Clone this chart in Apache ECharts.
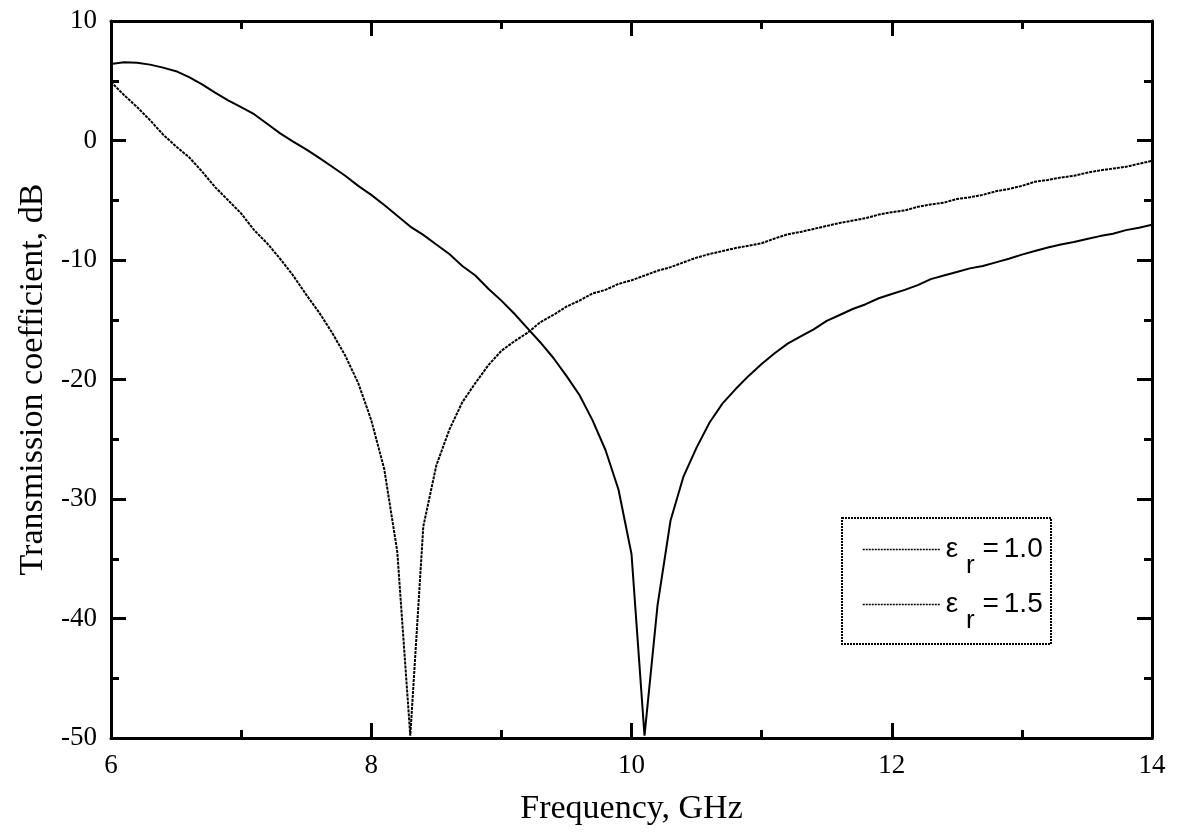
<!DOCTYPE html>
<html>
<head>
<meta charset="utf-8">
<script src="https://cdn.jsdelivr.net/npm/echarts@6/dist/echarts.min.js"></script>
<style>
  html, body { margin: 0; padding: 0; background: #fff; }
  #chart { width: 1180px; height: 835px; }
</style>
</head>
<body>
<div id="chart"></div>
<script>
// Frequency samples, GHz (0.1 GHz step)
const freqGHz = [
  6.0, 6.1, 6.2, 6.3, 6.4, 6.5, 6.6, 6.7, 6.8, 6.9,
  7.0, 7.1, 7.2, 7.3, 7.4, 7.5, 7.6, 7.7, 7.8, 7.9,
  8.0, 8.1, 8.2, 8.3, 8.4, 8.5, 8.6, 8.7, 8.8, 8.9,
  9.0, 9.1, 9.2, 9.3, 9.4, 9.5, 9.6, 9.7, 9.8, 9.9,
  10.0, 10.1, 10.2, 10.3, 10.4, 10.5, 10.6, 10.7, 10.8, 10.9,
  11.0, 11.1, 11.2, 11.3, 11.4, 11.5, 11.6, 11.7, 11.8, 11.9,
  12.0, 12.1, 12.2, 12.3, 12.4, 12.5, 12.6, 12.7, 12.8, 12.9,
  13.0, 13.1, 13.2, 13.3, 13.4, 13.5, 13.6, 13.7, 13.8, 13.9,
  14.0
];

// Transmission coefficient (dB), eps_r = 1.0
const transEps10 = [
  6.4, 6.55, 6.5, 6.35, 6.1, 5.8, 5.3, 4.7, 4.0, 3.35,
  2.8, 2.2, 1.4, 0.6, -0.1, -0.75, -1.45, -2.2, -2.95, -3.8,
  -4.55, -5.4, -6.3, -7.2, -7.9, -8.7, -9.5, -10.5, -11.3, -12.4,
  -13.4, -14.5, -15.7, -16.9, -18.2, -19.7, -21.3, -23.4, -25.9, -29.2,
  -34.6, -49.8, -38.9, -31.8, -28.1, -25.7, -23.6, -22.0, -20.8, -19.7,
  -18.7, -17.8, -17.0, -16.4, -15.8, -15.1, -14.6, -14.1, -13.7, -13.2,
  -12.85, -12.5, -12.1, -11.6, -11.3, -11.0, -10.7, -10.5, -10.2, -9.9,
  -9.55, -9.25, -8.95, -8.7, -8.5, -8.25, -8.0, -7.8, -7.5, -7.3,
  -7.05
];

// Transmission coefficient (dB), eps_r = 1.5
const transEps15 = [
  4.9, 3.8, 2.8, 1.7, 0.5, -0.5, -1.4, -2.6, -3.9, -5.0,
  -6.1, -7.5, -8.6, -9.9, -11.3, -12.9, -14.4, -16.1, -18.0, -20.3,
  -23.4, -27.5, -34.4, -49.8, -32.3, -27.2, -24.2, -21.9, -20.3, -18.8,
  -17.6, -16.8, -16.1, -15.2, -14.6, -13.9, -13.4, -12.8, -12.5, -12.0,
  -11.7, -11.3, -10.9, -10.6, -10.2, -9.8, -9.5, -9.25, -9.0, -8.8,
  -8.6, -8.2, -7.85, -7.65, -7.4, -7.15, -6.9, -6.7, -6.5, -6.2,
  -6.0, -5.85, -5.55, -5.35, -5.2, -4.9, -4.75, -4.55, -4.25, -4.05,
  -3.8, -3.45, -3.3, -3.1, -2.95, -2.7, -2.5, -2.35, -2.2, -1.95,
  -1.7
];

// Relative permittivity values shown in the legend
const permittivity = ['1.0', '1.5'];
const seriesNames = permittivity.map(p => 'eps_r=' + p);

const pairs = vals => freqGHz.map((f, i) => [f, vals[i]]);

const serif = 'Liberation Serif, Times New Roman, serif';
const sans = 'Liberation Sans, Arial, sans-serif';

const frameTick = (showLabels) => ({
  axisLine: { show: true, onZero: false, lineStyle: { color: '#000', width: 3 } },
  axisTick: { show: true, inside: true, length: 15, lineStyle: { color: '#000', width: 3 } },
  minorTick: { show: true, splitNumber: 2, length: 8, lineStyle: { color: '#000', width: 3 } },
  splitLine: { show: false },
  minorSplitLine: { show: false },
  axisLabel: { show: showLabels, color: '#000', fontFamily: serif, fontSize: 27, margin: 14 }
});

const chart = echarts.init(document.getElementById('chart'));

const option = {
  animation: false,
  backgroundColor: '#fff',
  grid: { left: 111, top: 21, right: 28, bottom: 97, containLabel: false },
  xAxis: [
    Object.assign({
      type: 'value', min: 6, max: 14, interval: 2, position: 'bottom',
      name: 'Frequency, GHz', nameLocation: 'middle', nameGap: 54,
      nameTextStyle: { color: '#000', fontFamily: serif, fontSize: 34 }
    }, frameTick(true)),
    Object.assign({ type: 'value', min: 6, max: 14, interval: 2, position: 'top' }, frameTick(false))
  ],
  yAxis: [
    Object.assign({
      type: 'value', min: -50, max: 10, interval: 10, position: 'left',
      name: 'Transmission coefficient, dB', nameLocation: 'middle', nameGap: 60, nameRotate: 90,
      nameTextStyle: { color: '#000', fontFamily: serif, fontSize: 34 }
    }, frameTick(true)),
    Object.assign({ type: 'value', min: -50, max: 10, interval: 10, position: 'right' }, frameTick(false))
  ],
  legend: {
    orient: 'vertical',
    left: 862,
    top: 520,
    padding: 0,
    itemGap: -4,
    itemWidth: 78,
    itemHeight: 14,
    lineStyle: { color: '#000', width: 1.5, type: [2, 1] },
    itemStyle: { color: 'rgba(0,0,0,0)', borderWidth: 0 },
    data: seriesNames,
    formatter: name => {
      const p = permittivity[seriesNames.indexOf(name)];
      return '{a|ε }{s|r}{a| =}{n|' + p + '}';
    },
    textStyle: {
      color: '#000',
      rich: {
        a: { fontFamily: sans, fontSize: 28, lineHeight: 28, color: '#000' },
        n: { fontFamily: sans, fontSize: 28, lineHeight: 28, color: '#000', padding: [0, 0, 0, 5] },
        s: { fontFamily: sans, fontSize: 26, lineHeight: 28, color: '#000', padding: [33, 0, 0, 0] }
      }
    }
  },
  graphic: [{
    type: 'rect',
    shape: { x: 842, y: 518, width: 209, height: 126 },
    style: { fill: 'none', stroke: '#000', lineWidth: 2, lineDash: [2, 1] },
    silent: true,
    z: 10
  }],
  series: [
    {
      name: seriesNames[0],
      type: 'line',
      data: pairs(transEps10),
      showSymbol: false,
      symbol: 'none',
      clip: true,
      itemStyle: { color: '#000' },
      lineStyle: { color: '#000', width: 2, type: 'solid' }
    },
    {
      name: seriesNames[1],
      type: 'line',
      data: pairs(transEps15),
      showSymbol: false,
      symbol: 'none',
      clip: true,
      itemStyle: { color: '#000' },
      lineStyle: { color: '#000', width: 2, type: [3, 1] }
    }
  ]
};

chart.setOption(option);
</script>
</body>
</html>
